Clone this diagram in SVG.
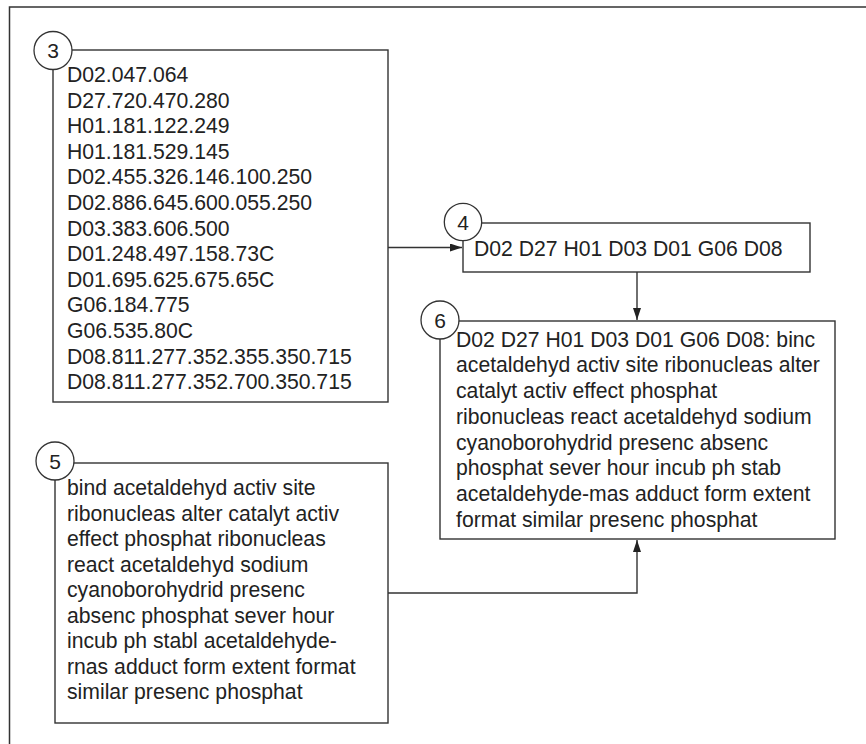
<svg xmlns="http://www.w3.org/2000/svg" width="866" height="744" viewBox="0 0 866 744">
<defs>
<style>
.box{fill:#fff;stroke:#333;stroke-width:1.4}
.circ{fill:#fff;stroke:#333;stroke-width:1.3}
.t{font-family:"Liberation Sans",Arial,sans-serif;font-size:21.2px;fill:#222}
.n{font-family:"Liberation Sans",Arial,sans-serif;font-size:21px;fill:#222;text-anchor:middle}
.c{fill:none;stroke:#333;stroke-width:1.4}
</style>
<marker id="ah" viewBox="0 0 12 8" refX="12" refY="4" markerWidth="12" markerHeight="8" markerUnits="userSpaceOnUse" orient="auto">
<path d="M0,0 L12,4 L0,8 Z" fill="#222"/>
</marker>
</defs>
<rect width="866" height="744" fill="#fff"/>
<path d="M9.5,744 V7 H866" fill="none" stroke="#333" stroke-width="1.5"/>
<g id="connectors">
<path class="c" d="M388,247.5 H462" marker-end="url(#ah)"/>
<path class="c" d="M637,272 V320" marker-end="url(#ah)"/>
<path class="c" d="M388,593 H637 V540" marker-end="url(#ah)"/>
</g>
<g id="node3">
<rect class="box" x="53" y="50" width="335" height="352"/>
<text class="t" x="67" y="82">D02.047.064</text>
<text class="t" x="67" y="107.6">D27.720.470.280</text>
<text class="t" x="67" y="133.2">H01.181.122.249</text>
<text class="t" x="67" y="158.8">H01.181.529.145</text>
<text class="t" x="67" y="184.4">D02.455.326.146.100.250</text>
<text class="t" x="67" y="210">D02.886.645.600.055.250</text>
<text class="t" x="67" y="235.6">D03.383.606.500</text>
<text class="t" x="67" y="261.2">D01.248.497.158.73C</text>
<text class="t" x="67" y="286.8">D01.695.625.675.65C</text>
<text class="t" x="67" y="312.4">G06.184.775</text>
<text class="t" x="67" y="338">G06.535.80C</text>
<text class="t" x="67" y="363.6">D08.811.277.352.355.350.715</text>
<text class="t" x="67" y="389.2">D08.811.277.352.700.350.715</text>
<circle class="circ" cx="53" cy="50.5" r="19"/>
<text class="n" x="53" y="58">3</text>
</g>
<g id="node4">
<rect class="box" x="463" y="223" width="347" height="49"/>
<text class="t" x="474" y="256">D02 D27 H01 D03 D01 G06 D08</text>
<circle class="circ" cx="463" cy="222" r="18.7"/>
<text class="n" x="463" y="229.5">4</text>
</g>
<g id="node6">
<rect class="box" x="440" y="321" width="395" height="218"/>
<text class="t" x="456" y="346.7">D02 D27 H01 D03 D01 G06 D08: binc</text>
<text class="t" x="456" y="372.4">acetaldehyd activ site ribonucleas alter</text>
<text class="t" x="456" y="398.1">catalyt activ effect phosphat</text>
<text class="t" x="456" y="423.8">ribonucleas react acetaldehyd sodium</text>
<text class="t" x="456" y="449.5">cyanoborohydrid presenc absenc</text>
<text class="t" x="456" y="475.2">phosphat sever hour incub ph stab</text>
<text class="t" x="456" y="500.9">acetaldehyde-mas adduct form extent</text>
<text class="t" x="456" y="526.6">format similar presenc phosphat</text>
<circle class="circ" cx="440" cy="320" r="19"/>
<text class="n" x="440" y="327.5">6</text>
</g>
<g id="node5">
<rect class="box" x="55" y="463" width="333" height="260"/>
<text class="t" x="67" y="495">bind acetaldehyd activ site</text>
<text class="t" x="67" y="520.5">ribonucleas alter catalyt activ</text>
<text class="t" x="67" y="546">effect phosphat ribonucleas</text>
<text class="t" x="67" y="571.5">react acetaldehyd sodium</text>
<text class="t" x="67" y="597">cyanoborohydrid presenc</text>
<text class="t" x="67" y="622.5">absenc phosphat sever hour</text>
<text class="t" x="67" y="648">incub ph stabl acetaldehyde-</text>
<text class="t" x="67" y="673.5">rnas adduct form extent format</text>
<text class="t" x="67" y="699">similar presenc phosphat</text>
<circle class="circ" cx="55" cy="461" r="19"/>
<text class="n" x="55" y="468.5">5</text>
</g>
</svg>
